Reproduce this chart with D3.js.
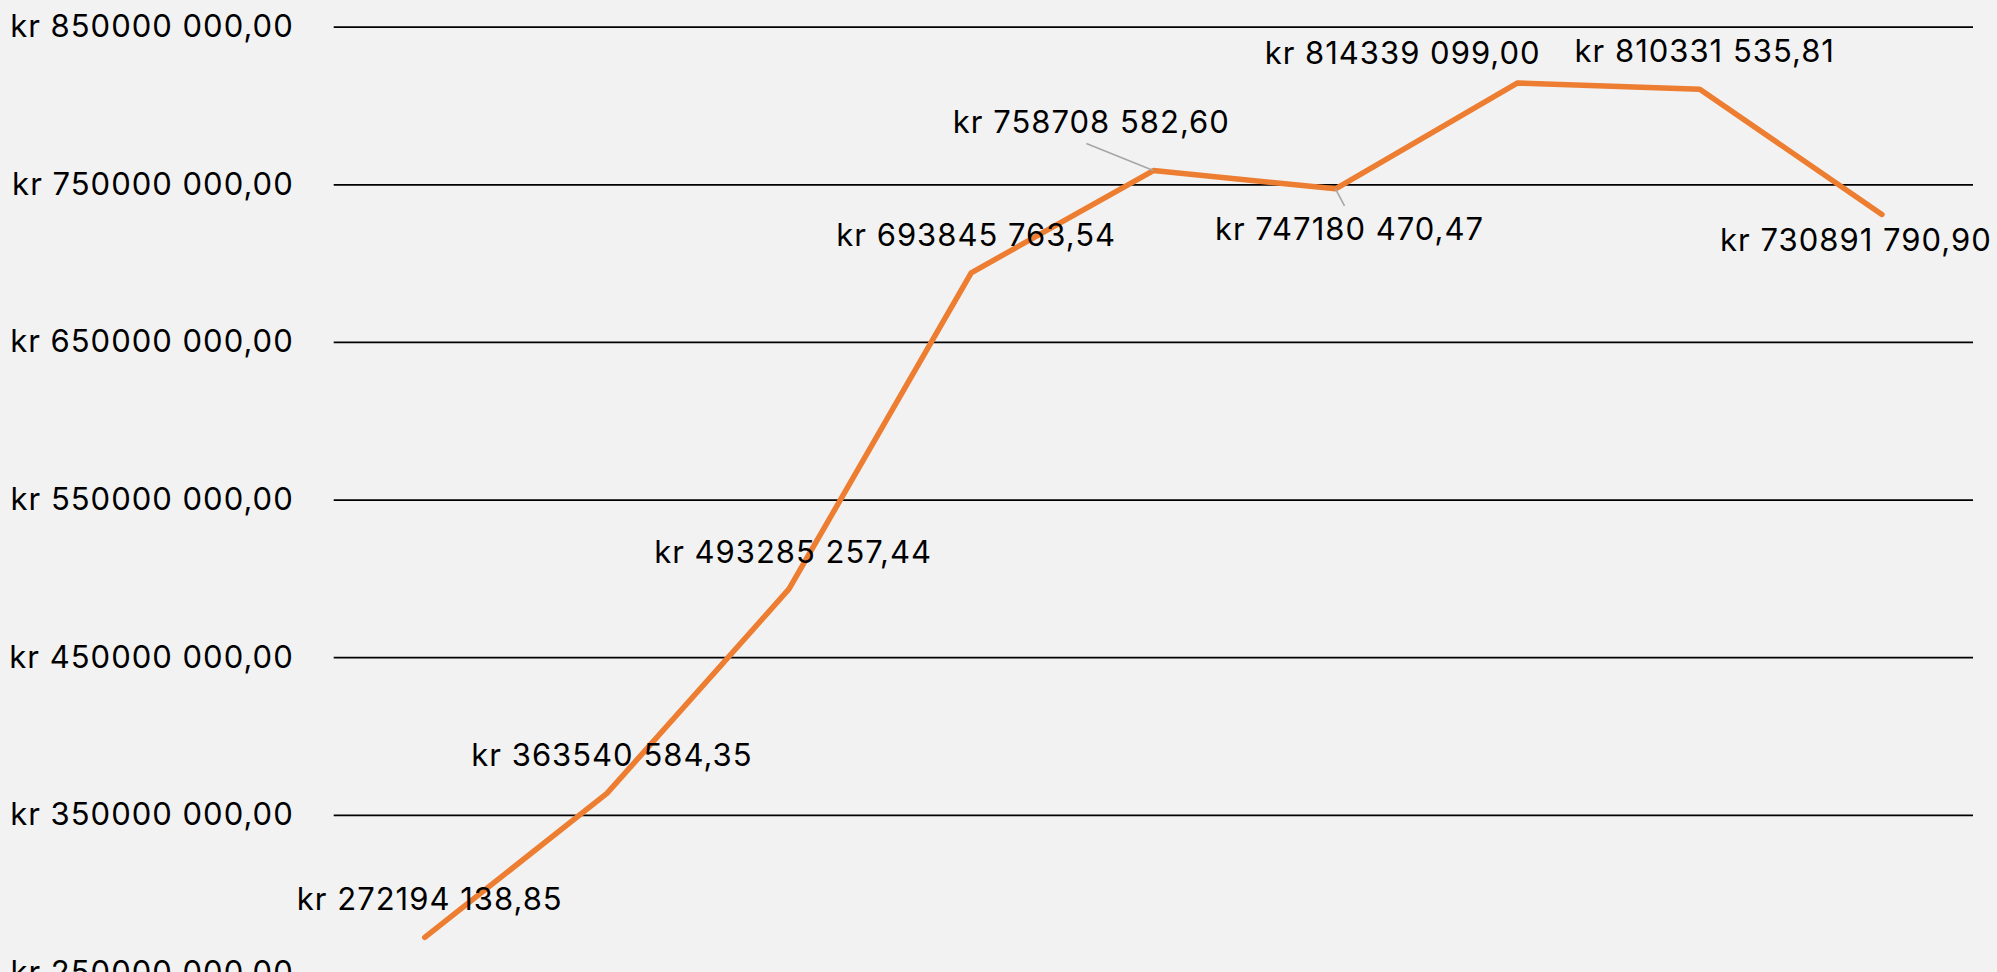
<!DOCTYPE html>
<html>
<head>
<meta charset="utf-8">
<script src="https://cdn.jsdelivr.net/npm/d3@7.9.0/dist/d3.min.js"></script>
<style>
  html, body { margin: 0; padding: 0; background: #f2f2f2; }
  svg { display: block; }
  text { font-family: Inter, 'Open Sans', sans-serif; fill: #000; letter-spacing: 1px; }
</style>
</head>
<body>
<svg id="chart" width="1997" height="972"></svg>
<script>
// data
const categories = ['1', '2', '3', '4', '5', '6', '7', '8', '9'];
const values = [
  272194138.85, 363540584.35, 493285257.44, 693845763.54, 758708582.60,
  747180470.47, 814339099.00, 810331535.81, 730891790.90
];
const tickValues = [250000000, 350000000, 450000000, 550000000, 650000000, 750000000, 850000000];

// label placement (offset from the point: centre x, baseline y) and leader lines
const labelLayout = [
  { dx: 5, dy: -27 },
  { dx: 5, dy: -27 },
  { dx: 4, dy: -26 },
  { dx: 5, dy: -27 },
  { dx: -62, dy: -38, leader: [-67, -27] },
  { dx: 14, dy: 51, leader: [9, 17] },
  { dx: -115, dy: -19 },
  { dx: 5, dy: -27 },
  { dx: -26, dy: 37 }
];

const fontSize = 31;

function kr(v) {
  const s = v.toFixed(2);
  const [intPart, dec] = s.split('.');
  const head = intPart.slice(0, -3);
  const tail = intPart.slice(-3);
  return `kr ${head} ${tail},${dec}`;
}

const svg = d3.select('#chart');
const left = 333.7, right = 1973;

const x = d3.scaleBand().domain(categories).range([left, right]);
const y = d3.scaleLinear().domain([250000000, 850000000]).range([972.4, 26.7]);

// gridlines + axis labels
const axis = d3.axisLeft(y)
  .tickValues(tickValues)
  .tickSize(-(right - left))
  .tickPadding(40)
  .tickFormat(kr);

const gAxis = svg.append('g')
  .attr('transform', `translate(${left},0)`)
  .call(axis);
gAxis.select('.domain').remove();
gAxis.selectAll('.tick line')
  .attr('stroke', '#000')
  .attr('stroke-width', 1.8);
gAxis.selectAll('.tick text')
  .attr('font-size', fontSize)
  .attr('font-family', null)
  .attr('fill', '#000')
  .attr('dy', '0.32em');

const px = (d, i) => x(categories[i]) + x.bandwidth() / 2;

// line
const line = d3.line()
  .x((d, i) => px(d, i))
  .y((d) => y(d));

svg.append('path')
  .datum(values)
  .attr('d', line)
  .attr('fill', 'none')
  .attr('stroke', '#ED7D31')
  .attr('stroke-width', 5.5)
  .attr('stroke-linecap', 'round')
  .attr('stroke-linejoin', 'round');

// leader lines
values.forEach((v, i) => {
  const lay = labelLayout[i];
  if (!lay.leader) return;
  svg.append('line')
    .attr('x1', px(v, i))
    .attr('y1', y(v))
    .attr('x2', px(v, i) + lay.leader[0])
    .attr('y2', y(v) + lay.leader[1])
    .attr('stroke', '#A6A6A6')
    .attr('stroke-width', 1.6);
});

// data labels
svg.append('g')
  .selectAll('text')
  .data(values)
  .join('text')
  .attr('x', (d, i) => px(d, i) + labelLayout[i].dx)
  .attr('y', (d, i) => y(d) + labelLayout[i].dy)
  .attr('text-anchor', 'middle')
  .attr('font-size', fontSize)
  .text(kr);
</script>
</body>
</html>
